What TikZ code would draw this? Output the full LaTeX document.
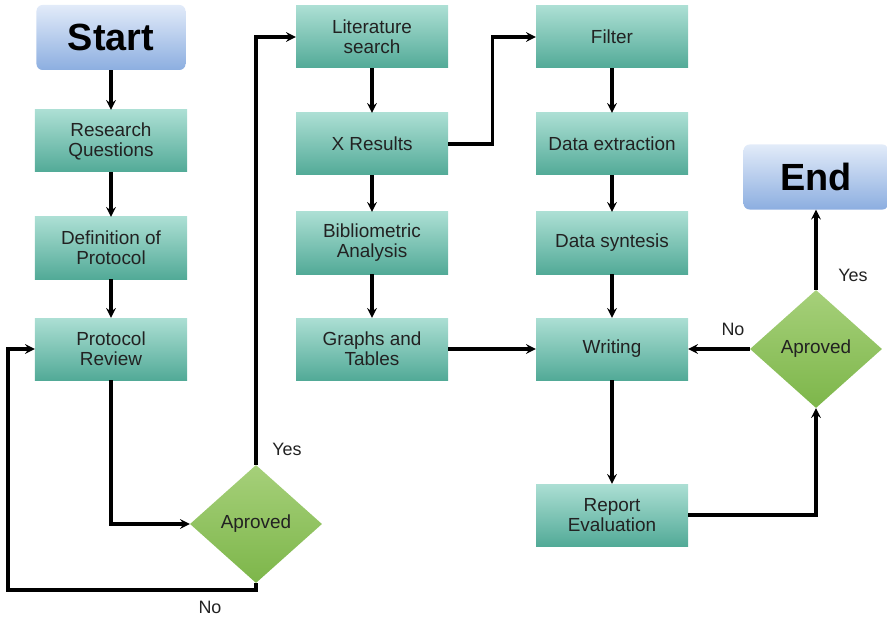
\documentclass[tikz,border=0pt]{standalone}
\usepackage{fontspec}
\setmainfont{Liberation Sans}
\usetikzlibrary{shapes.geometric}

\definecolor{boxtop}{HTML}{ACDFD4}
\definecolor{boxbot}{HTML}{52AA97}
\definecolor{termtop}{HTML}{E2EBF9}
\definecolor{termbot}{HTML}{8CAEE0}
\definecolor{dectop}{HTML}{A6D07A}
\definecolor{decbot}{HTML}{7DB64A}
\definecolor{ink}{HTML}{222222}

\begin{document}
\begin{tikzpicture}[x=1bp, y=-1bp, >=stealth,
  stepbox/.style={rectangle, top color=boxtop, bottom color=boxbot,
    minimum width=152bp, minimum height=62bp, align=center, text=ink,
    font=\fontsize{19}{20}\selectfont},
  term/.style={rectangle, rounded corners=6bp, top color=termtop, bottom color=termbot,
    minimum height=65bp, font=\fontsize{38}{40}\selectfont\bfseries},
  decision/.style={diamond, top color=dectop, bottom color=decbot, inner sep=0pt,
    minimum width=132bp, minimum height=118bp, text=ink,
    font=\fontsize{19}{20}\selectfont},
  lbl/.style={text=ink, font=\fontsize{18}{20}\selectfont},
  flow/.style={->, line width=3.2bp}]
\useasboundingbox (0,0) rectangle (887,619);

% first column
\node[term, minimum width=149bp] (start) at (111,37.5) {Start};
\node[stepbox] (rq) at (111,141) {Research\\Questions};
\node[stepbox] (def) at (111,248) {Definition of\\Protocol};
\node[stepbox] (pr) at (111,349) {Protocol\\Review};
\node[decision] (ap1) at (256,524) {Aproved};

% second column
\node[stepbox] (lit) at (372,37) {Literature\\search};
\node[stepbox] (xres) at (372,144) {X Results};
\node[stepbox] (bib) at (372,243) {Bibliometric\\Analysis};
\node[stepbox] (graphs) at (372,349) {Graphs and\\Tables};

% third column
\node[stepbox] (filter) at (612,37) {Filter};
\node[stepbox] (ext) at (612,144) {Data extraction};
\node[stepbox] (syn) at (612,243) {Data syntesis};
\node[stepbox] (writing) at (612,349) {Writing};
\node[stepbox] (report) at (612,515) {Report\\Evaluation};

% end of the review
\node[term, minimum width=145bp] (end) at (816,177) {End};
\node[decision] (ap2) at (816,349) {Aproved};

\coordinate (back) at (8,590);

\draw[flow] (start) -- (rq);
\draw[flow] (rq) -- (def);
\draw[flow] (def) -- (pr);
\draw[flow] (pr.south) |- (ap1.west);
\draw[flow] (ap1.south) |- (back) |- (pr.west);
\draw[flow] (ap1.north) |- (lit.west);
\draw[flow] (lit) -- (xres);
\draw[flow] (xres) -- (bib);
\draw[flow] (bib) -- (graphs);
\draw[flow] (xres.east) -- ++(44,0) |- (filter.west);
\draw[flow] (filter) -- (ext);
\draw[flow] (ext) -- (syn);
\draw[flow] (syn) -- (writing);
\draw[flow] (graphs) -- (writing);
\draw[flow] (writing) -- (report);
\draw[flow] (report.east) -| (ap2.south);
\draw[flow] (ap2.west) -- (writing.east);
\draw[flow] (ap2.north) -- (end.south);

\node[lbl] (no1) at (210,607) {No};
\node[lbl] (yes1) at (287,449) {Yes};
\node[lbl] (no2) at (733,329) {No};
\node[lbl] (yes2) at (853,275) {Yes};
\end{tikzpicture}
\end{document}
